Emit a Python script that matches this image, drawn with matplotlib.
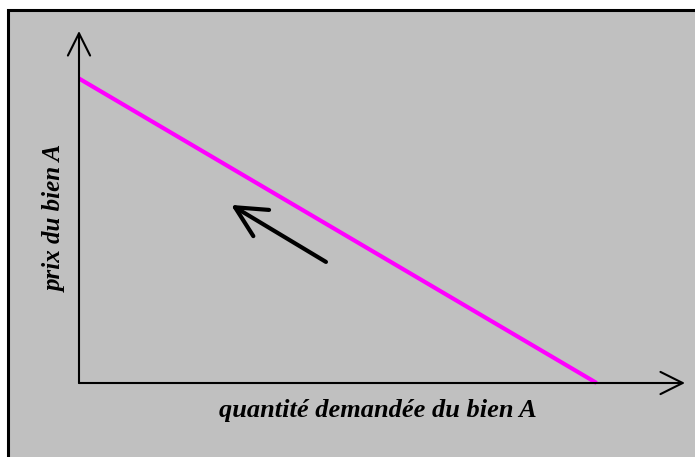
import matplotlib
matplotlib.use("Agg")
import matplotlib.pyplot as plt
from matplotlib.patches import Rectangle

# diagram data (arbitrary units, origin at the axis corner)
axis_x_max = 12.0
axis_y_max = 10.0
demand_q = [0.0, 10.25]
demand_p = [8.65, 0.0]
shift_start = (4.89, 3.44)
shift_end = (3.01, 5.06)

x_label = "quantité demandée du bien A"
y_label = "prix du bien A"

fig = plt.figure(figsize=(6.95, 4.57), dpi=100)
fig.patch.set_facecolor("white")

# grey panel with black frame (right / bottom edges fall outside the picture)
frame = Rectangle((8 / 695, -0.05), 1.2, 1 - 9.5 / 457 + 0.05, transform=fig.transFigure,
                  facecolor="#c0c0c0", edgecolor="black", linewidth=2.2, zorder=-5)
fig.patches.append(frame)

ax = fig.add_axes([79 / 695, (457 - 383) / 457, (685 - 79) / 695, (383 - 31) / 457])
ax.set_zorder(2)
ax.set_xlim(0, axis_x_max)
ax.set_ylim(0, axis_y_max)
ax.axis("off")
ax.patch.set_visible(False)

# axes with open arrow heads
head = dict(arrowstyle="->,head_length=1.6,head_width=0.8", color="black", lw=1.5,
            shrinkA=0, shrinkB=0)
ax.annotate("", xy=(axis_x_max, 0), xytext=(0, 0), arrowprops=head, annotation_clip=False)
ax.annotate("", xy=(0, axis_y_max), xytext=(0, 0), arrowprops=head, annotation_clip=False)

# demand curve
ax.plot(demand_q, demand_p, color="#ff00ff", lw=3, solid_capstyle="butt", clip_on=False)

# movement along the curve
ax.annotate("", xy=shift_end, xytext=shift_start,
            arrowprops=dict(arrowstyle="->,head_length=2.2,head_width=1.1", color="black",
                            lw=3, shrinkA=0, shrinkB=0))

font = dict(family="Liberation Serif", weight="bold", style="italic")
fig.text(378 / 695, 1 - 411 / 457, x_label, ha="center", va="center", zorder=3,
         size=19, **font)
fig.text(55 / 695, 1 - 218 / 457, y_label, ha="center", va="center", rotation=90,
         zorder=3, size=18, **font)

fig.savefig("out.png", dpi=100)
